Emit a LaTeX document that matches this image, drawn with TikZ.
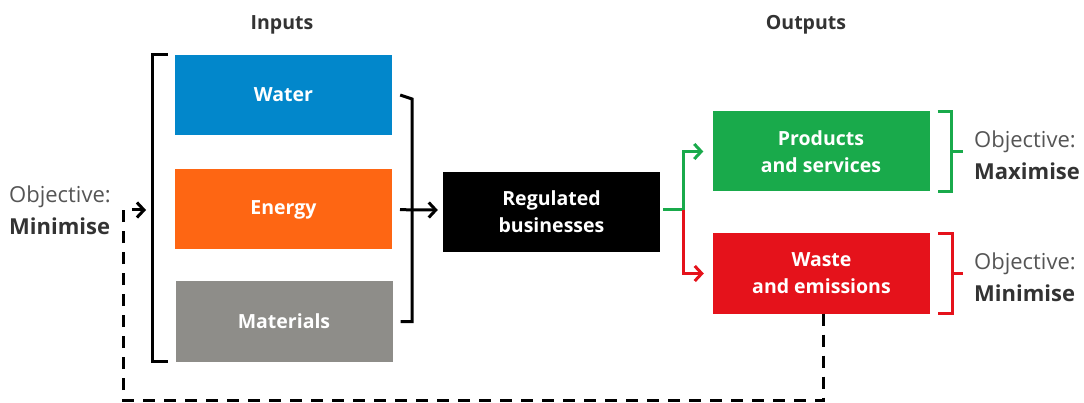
\documentclass[tikz,border=0pt]{standalone}
\usepackage{fontspec}
\setmainfont{Open Sans}
\usetikzlibrary{arrows.meta,positioning}
\definecolor{waterblue}{HTML}{0287CB}
\definecolor{energyorange}{HTML}{FE6613}
\definecolor{matgray}{HTML}{8E8D89}
\definecolor{prodgreen}{HTML}{19AA4B}
\definecolor{wastered}{HTML}{E5121B}
\definecolor{labelgray}{HTML}{555555}
\definecolor{darktext}{HTML}{333333}
\tikzset{
  box/.style={minimum width=217pt,minimum height=80pt,inner sep=0pt,text=white,
    font=\bfseries\fontsize{19.5}{27}\selectfont,align=center},
  head/.style={text=darktext,font=\bfseries\fontsize{19.5}{23}\selectfont},
  objtext/.style={text=labelgray,align=left,inner sep=0pt,font=\fontsize{22}{32}\selectfont},
  brk/.style={line width=3pt},
  arr/.style={line width=3pt,-{Straight Barb[length=7pt,width=15pt]}},
  dashloop/.style={line width=3pt,dash pattern=on 12pt off 9pt}
}
\begin{document}
\begin{tikzpicture}[x=1pt,y=-1pt]
\useasboundingbox (0,0) rectangle (1084,403);
% headings
\node[head] (inputs) at (282,25) {Inputs};
\node[head] (outputs) at (806,25) {Outputs};
% input boxes
\node[box,fill=waterblue] (water) at (283.5,95) {Water};
\node[box,fill=energyorange] (energy) at (283.5,209.5) {Energy};
\node[box,fill=matgray] (materials) at (284,321.5) {Materials};
% centre
\node[box,fill=black] (reg) at (551.5,212) {Regulated\\businesses};
% outputs
\node[box,fill=prodgreen] (prod) at (821,151.5) {Products\\and services};
\node[box,fill=wastered] (waste) at (821.5,273.5) {Waste\\and emissions};
% objectives
\node[objtext,anchor=west] (objin) at (9,210) {Objective:\\\textcolor{darktext}{\bfseries Minimise}};
\node[objtext,anchor=west] (objmax) at (974,155) {Objective:\\\textcolor{darktext}{\bfseries Maximise}};
\node[objtext,anchor=west] (objmin) at (974,277) {Objective:\\\textcolor{darktext}{\bfseries Minimise}};
% input brackets
\draw[brk] ([xshift=-7pt]water.north west) -- ++(-15,0) |- ([xshift=-7pt]materials.south west);
\draw[brk] ([xshift=8pt]water.east) -- (412,99) |- ([xshift=8pt]materials.east);
\coordinate (fork) at (412,210);
\draw[arr] (energy.east -| 400,0) -- (fork) -- ([xshift=-5pt]reg.west |- fork);
% output arrows
\coordinate (join) at (683,210);
\draw[prodgreen,arr] ([xshift=3pt]reg.east |- join) -- (join) |- ([xshift=-9pt]prod.west);
\draw[wastered,arr] (join) |- ([xshift=-9pt]waste.west);
% output brackets
\draw[prodgreen,brk] ([xshift=8pt]prod.north east) -- ++(14,0) |- ([xshift=8pt]prod.south east);
\draw[prodgreen,brk] ([xshift=22pt]prod.east) -- ++(11,0);
\draw[wastered,brk] ([xshift=8pt]waste.north east) -- ++(14,0) |- ([xshift=8pt]waste.south east);
\draw[wastered,brk] ([xshift=22pt]waste.east) -- ++(11,0);
% feedback loop
\coordinate (loopin) at (146,210);
\draw[dashloop] ([xshift=2pt]waste.south) -- ++(0,87) -| (123,210) -- (136,210);
\draw[arr] (136,210) -- (loopin);
\end{tikzpicture}
\end{document}
